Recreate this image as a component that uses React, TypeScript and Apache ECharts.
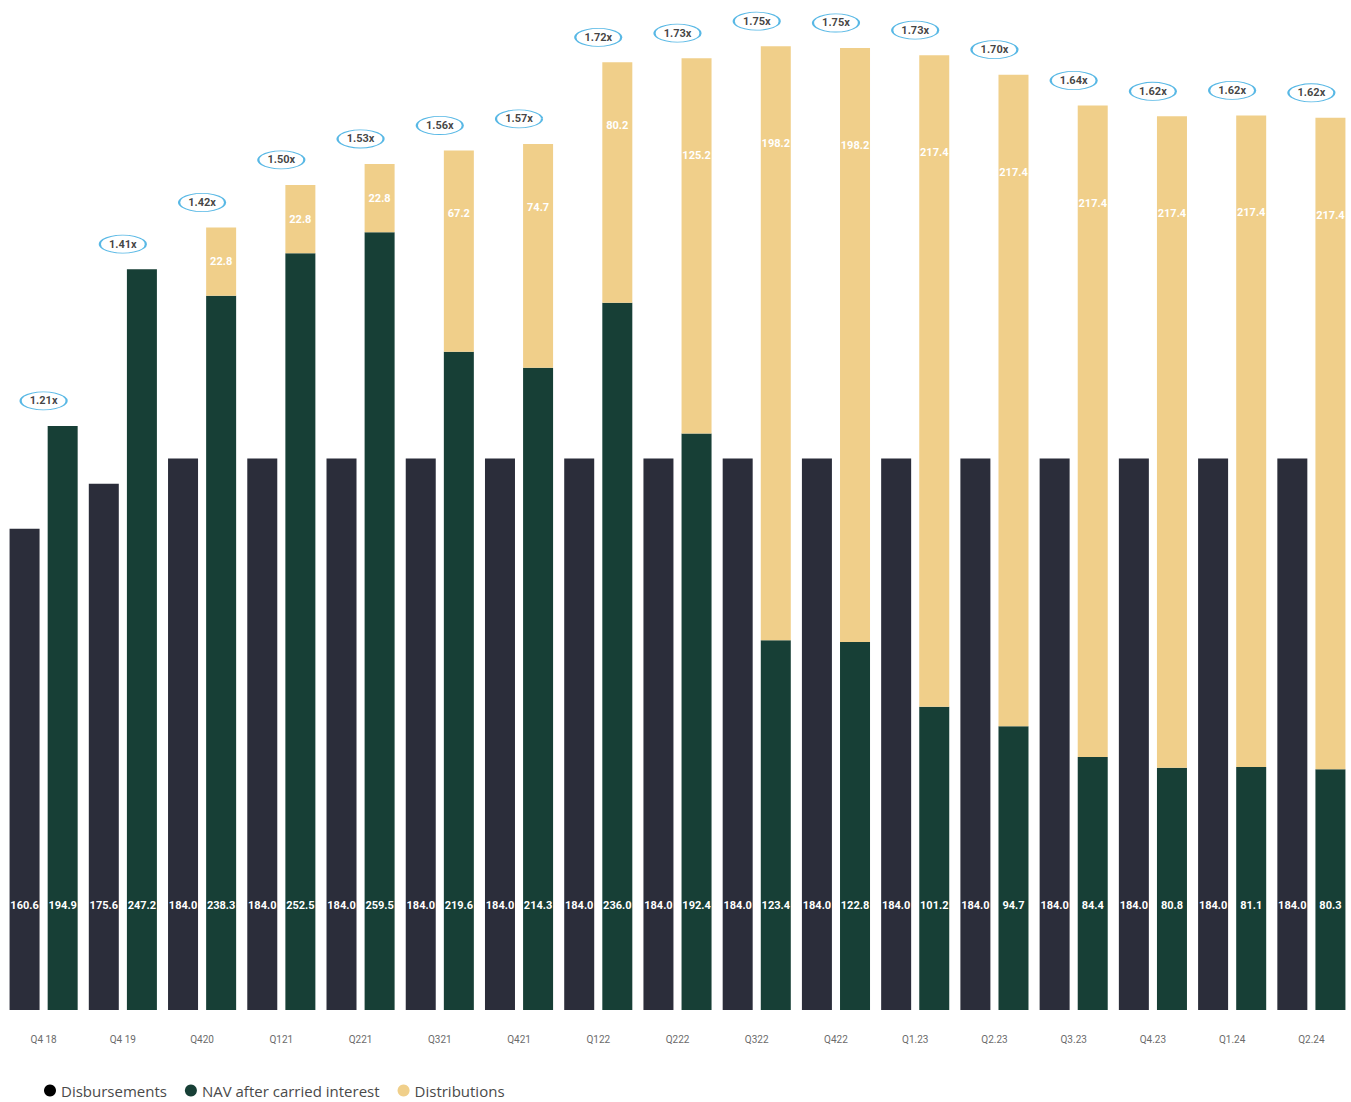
import React, { useEffect, useRef } from "react";
import * as echarts from "echarts";

// Quarterly fund figures (EUR m)
const categories = [
  "Q4 18", "Q4 19", "Q420", "Q121", "Q221", "Q321", "Q421", "Q122", "Q222",
  "Q322", "Q422", "Q1.23", "Q2.23", "Q3.23", "Q4.23", "Q1.24", "Q2.24",
];
const disbursements = [
  160.6, 175.6, 184.0, 184.0, 184.0, 184.0, 184.0, 184.0, 184.0,
  184.0, 184.0, 184.0, 184.0, 184.0, 184.0, 184.0, 184.0,
];
const navAfterCarry = [
  194.9, 247.2, 238.3, 252.5, 259.5, 219.6, 214.3, 236.0, 192.4,
  123.4, 122.8, 101.2, 94.7, 84.4, 80.8, 81.1, 80.3,
];
const distributions: (number | null)[] = [
  null, null, 22.8, 22.8, 22.8, 67.2, 74.7, 80.2, 125.2,
  198.2, 198.2, 217.4, 217.4, 217.4, 217.4, 217.4, 217.4,
];
const multiples = [
  "1.21x", "1.41x", "1.42x", "1.50x", "1.53x", "1.56x", "1.57x", "1.72x", "1.73x",
  "1.75x", "1.75x", "1.73x", "1.70x", "1.64x", "1.62x", "1.62x", "1.62x",
];

const DARK = "#2b2d3a";
const GREEN = "#173f36";
const SAND = "#f0cf8a";
const RING = "#2ea6df";
const NARROW = "Roboto, sans-serif";

export default function App() {
  const ref = useRef<HTMLDivElement>(null);

  useEffect(() => {
    document.body.style.margin = "0";
    if (!ref.current) return;
    const chart = echarts.init(ref.current, null, { renderer: "svg" });

    const valueLabel = {
      show: true,
      position: "insideBottom" as const,
      distance: 99,
      color: "#ffffff",
      fontFamily: NARROW,
      fontWeight: "bold" as const,
      fontSize: 11,
      formatter: (p: any) => Number(p.value).toFixed(1),
    };

    const totals = navAfterCarry.map((v, i) => +(v + (distributions[i] ?? 0)).toFixed(1));

    chart.setOption({
      animation: false,
      backgroundColor: "#ffffff",
      grid: { left: 4, right: 0, top: 21, bottom: 92 },
      legend: {
        left: 44,
        top: 1083,
        padding: 0,
        icon: "circle",
        itemWidth: 12,
        itemHeight: 12,
        itemGap: 18,
        textStyle: { fontFamily: '"Open Sans", sans-serif', fontSize: 15, color: "#4a4a4a" },
        data: [
          { name: "Disbursements", itemStyle: { color: "#000000" } },
          { name: "NAV after carried interest", itemStyle: { color: GREEN } },
          { name: "Distributions", itemStyle: { color: SAND } },
        ],
      },
      xAxis: {
        type: "category",
        data: categories,
        axisLine: { show: false },
        axisTick: { show: false },
        axisLabel: {
          margin: 24,
          fontSize: 10,
          color: "#6b6b6b",
          fontFamily: NARROW,
        },
      },
      yAxis: {
        type: "value",
        min: 0,
        max: 330,
        show: false,
        splitLine: { show: false },
      },
      series: [
        {
          name: "Disbursements",
          type: "bar",
          barWidth: 30,
          barGap: "27%",
          itemStyle: { color: DARK },
          label: valueLabel,
          data: disbursements,
        },
        {
          name: "NAV after carried interest",
          type: "bar",
          stack: "value",
          barWidth: 30,
          itemStyle: { color: GREEN },
          label: valueLabel,
          data: navAfterCarry,
        },
        {
          name: "Distributions",
          type: "bar",
          stack: "value",
          barWidth: 30,
          itemStyle: { color: SAND },
          data: distributions.map((v) =>
            v == null
              ? null
              : {
                  value: v,
                  label: {
                    show: true,
                    position: v < 50 ? "inside" : "insideTop",
                    distance: v < 100 ? 58 : 92,
                    color: "#ffffff",
                    fontFamily: NARROW,
                    fontWeight: "bold",
                    fontSize: 11,
                    formatter: (p: any) => Number(p.value).toFixed(1),
                  },
                }
          ),
        },
        {
          name: "Multiple",
          type: "scatter",
          symbol: "circle",
          symbolSize: [46, 18],
          symbolOffset: [0, -25],
          itemStyle: { color: "#ffffff", borderColor: RING, borderWidth: 1.4 },
          label: {
            show: true,
            position: "inside",
            color: "#111111",
            fontFamily: NARROW,
            fontWeight: "bold",
            fontSize: 11,
            formatter: (p: any) => multiples[p.dataIndex],
          },
          z: 5,
          data: totals,
        },
      ],
    });

    return () => chart.dispose();
  }, []);

  return <div ref={ref} style={{ width: 1351, height: 1102 }} />;
}
